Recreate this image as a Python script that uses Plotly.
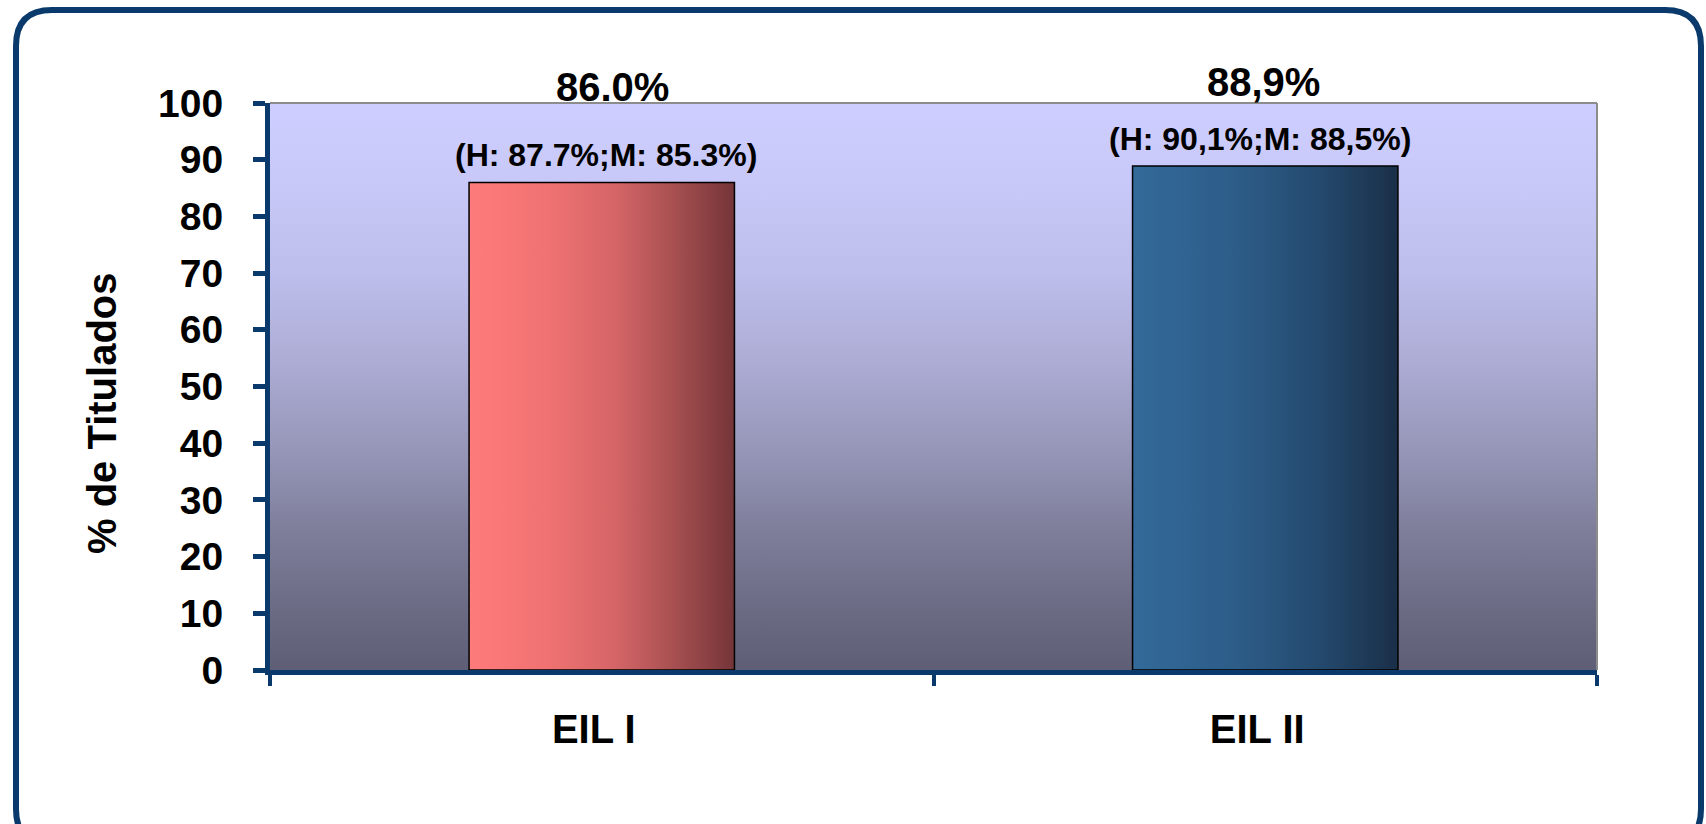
import base64
import plotly.graph_objects as go

# ---------------- data ----------------
categories = ["EIL I", "EIL II"]
pct_titulados = [86.0, 88.9]
main_labels = ["86.0%", "88,9%"]
sub_labels = ["(H: 87.7%;M: 85.3%)", "(H: 90,1%;M: 88,5%)"]
y_tick_vals = [0, 10, 20, 30, 40, 50, 60, 70, 80, 90, 100]
y_title = "% de Titulados"

# ---------------- layout geometry ----------------
W, H = 1706, 824
L, R, T, B = 270, 109, 103, 154
PW, PH = W - L - R, H - T - B
NAVY = "#0A3A6B"
FONT = "Liberation Sans, Arial, sans-serif"


def px_x(px):
    return (px - L) / PW


def px_y(py):
    return (H - B - py) / PH


def svg_gradient(stops, horizontal):
    x2, y2 = ("1", "0") if horizontal else ("0", "1")
    st = "".join(f'<stop offset="{o}" stop-color="{c}"/>' for o, c in stops)
    svg = (
        '<svg xmlns="http://www.w3.org/2000/svg" width="100" height="100" '
        'viewBox="0 0 100 100" preserveAspectRatio="none">'
        f'<defs><linearGradient id="g" x1="0" y1="0" x2="{x2}" y2="{y2}">{st}'
        '</linearGradient></defs><rect width="100" height="100" fill="url(#g)"/></svg>'
    )
    return "data:image/svg+xml;base64," + base64.b64encode(svg.encode()).decode()


bg_stops = [(0, "#CDCDFF"), (0.15, "#C8C8F8"), (0.3, "#BEBEEC"), (0.45, "#ADADD6"),
            (0.6, "#9898BB"), (0.75, "#7F7F9C"), (0.9, "#6A6A83"), (1, "#5E5E76")]
bar_stops = [
    [(0, "#FF7B7B"), (0.3, "#F07272"), (0.55, "#D56567"), (0.75, "#AC5253"), (1, "#743539")],
    [(0, "#336A99"), (0.4, "#2D5C88"), (0.7, "#244A6E"), (1, "#1A2F48")],
]

fig = go.Figure()
fig.add_trace(go.Bar(
    x=categories, y=pct_titulados, width=0.4,
    marker=dict(color="rgba(0,0,0,0)", line=dict(color="black", width=1.5)),
    hoverinfo="x+y",
))

images = [dict(source=svg_gradient(bg_stops, False), xref="paper", yref="paper",
               x=0, y=1, sizex=1, sizey=1, xanchor="left", yanchor="top",
               sizing="stretch", layer="below")]
for i, v in enumerate(pct_titulados):
    images.append(dict(source=svg_gradient(bar_stops[i], True), xref="x", yref="y",
                       x=i - 0.2, y=v, sizex=0.4, sizey=v, xanchor="left", yanchor="top",
                       sizing="stretch", layer="below"))

label_y_px = [87, 82]
main_xshift = [11, -2]
sub_xshift = [4, -5]
annotations = []
for i, v in enumerate(pct_titulados):
    annotations.append(dict(x=categories[i], y=px_y(label_y_px[i]), xref="x", yref="paper",
                            text=f"<b>{main_labels[i]}</b>", showarrow=False,
                            xanchor="center", yanchor="middle", xshift=main_xshift[i],
                            font=dict(size=40, color="black", family=FONT)))
    annotations.append(dict(x=categories[i], y=v, xref="x", yref="y",
                            text=f"<b>{sub_labels[i]}</b>", showarrow=False,
                            xanchor="center", yanchor="middle", yshift=27,
                            xshift=sub_xshift[i],
                            font=dict(size=32, color="black", family=FONT)))
annotations.append(dict(x=px_x(102), y=px_y(413), xref="paper", yref="paper",
                        text=f"<b>{y_title}</b>", textangle=-90, showarrow=False,
                        xanchor="center", yanchor="middle",
                        font=dict(size=40, color="black", family=FONT)))

# rounded outer frame
x0, y0, x1, y1, r = 16, 10, 1701, 845, 36
pts = [
    ("M", [(x0 + r, y0)]), ("L", [(x1 - r, y0)]), ("Q", [(x1, y0), (x1, y0 + r)]),
    ("L", [(x1, y1 - r)]), ("Q", [(x1, y1), (x1 - r, y1)]), ("L", [(x0 + r, y1)]),
    ("Q", [(x0, y1), (x0, y1 - r)]), ("L", [(x0, y0 + r)]), ("Q", [(x0, y0), (x0 + r, y0)]),
]
path = " ".join(cmd + " " + " ".join(f"{px_x(a):.5f},{px_y(b):.5f}" for a, b in p) for cmd, p in pts) + " Z"

shapes = [
    dict(type="path", path=path, xref="paper", yref="paper",
         line=dict(color=NAVY, width=6), layer="above"),
    dict(type="line", xref="paper", yref="paper", x0=0, x1=1, y0=1, y1=1,
         line=dict(color="#8C8C8C", width=2)),
    dict(type="line", xref="paper", yref="paper", x0=1, x1=1, y0=0, y1=1,
         line=dict(color="#8C8C8C", width=2)),
]

fig.update_layout(
    width=W, height=H,
    margin=dict(l=L, r=R, t=T, b=B, pad=0),
    paper_bgcolor="white", plot_bgcolor="#9898BB",
    showlegend=False, bargap=0.6,
    images=images, annotations=annotations, shapes=shapes,
    font=dict(family=FONT, color="black"),
)
fig.update_xaxes(
    type="category", tickson="boundaries", range=[-0.5, 1.5],
    showline=True, linecolor=NAVY, linewidth=5,
    ticks="outside", ticklen=11, tickwidth=4, tickcolor=NAVY,
    tickfont=dict(size=40, family=FONT, color="black"),
    tickvals=categories, ticktext=[f"<b>{c}</b>" for c in categories],
    ticklabelstandoff=20, ticklabelshift=-8, showgrid=False, zeroline=False,
)
fig.update_yaxes(
    range=[0, 100], tickvals=y_tick_vals, ticktext=[f"<b>{t}</b>" for t in y_tick_vals],
    showline=True, linecolor=NAVY, linewidth=5,
    ticks="outside", ticklen=12, tickwidth=5, tickcolor=NAVY,
    tickfont=dict(size=39, family=FONT, color="black"),
    ticklabelstandoff=22, showgrid=False, zeroline=False,
)

fig.write_html(
    "out.html",
    config={"displayModeBar": False},
    post_script="document.body.style.margin='0px';document.body.style.overflow='hidden';",
)
